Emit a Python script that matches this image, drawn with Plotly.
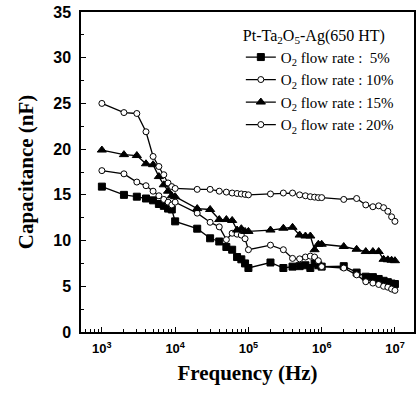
import plotly.graph_objects as go

freq = [m * 10**e for e in (3, 4, 5, 6) for m in range(1, 10)] + [10**7]

cap_5 = [15.9, 15.0, 14.8, 14.6, 14.4, 14.0, 13.8, 13.5, 13.4,
         12.1, 11.3, 10.25, 9.9, 9.3, 9.0, 8.2, 7.95, 7.5,
         7.0, 7.6, 7.0, 7.15, 7.2, 7.3, 7.0, 7.5, 7.3,
         7.15, 7.2, 6.5, 6.05, 6.0, 5.8, 5.6, 5.45, 5.3,
         5.25]
cap_10 = [17.65, 17.3, 16.4, 16.0, 15.4, 14.9, 14.5, 14.2, 13.9,
          14.2, 13.0, 12.0, 11.5, 10.1, 10.8, 10.7, 10.6, 10.2,
          9.0, 9.5, 9.0, 8.05, 8.0, 8.2, 8.3, 8.2, 7.8,
          7.15, 7.0, 6.25, 5.5, 5.35, 5.2, 5.0, 4.9, 4.7,
          4.55]
cap_15 = [19.9, 19.4, 19.3, 18.4, 18.3, 17.0, 16.1, 15.4, 14.9,
          14.8, 13.5, 13.4, 12.3, 12.3, 12.2, 11.15, 11.3, 11.0,
          11.0, 11.15, 11.35, 11.45, 10.6, 10.5, 10.5, 9.0, 9.6,
          9.6, 9.35, 9.05, 8.8, 8.8, 8.8, 7.95, 7.9, 7.85,
          7.8]
cap_20 = [25.0, 24.0, 23.9, 21.9, 19.2, 18.1, 17.2, 16.3, 15.9,
          15.7, 15.6, 15.6, 15.4, 15.3, 15.2, 15.15, 15.1, 15.05,
          15.0, 15.1, 15.2, 15.2, 15.0, 14.9, 14.8, 14.75, 14.7,
          14.7, 14.5, 14.6, 13.9, 13.7, 13.8, 13.6, 13.2, 12.6,
          12.1]

series = [
    ("O<sub>2</sub> flow rate :  5%", cap_5, "square", "black", 7),
    ("O<sub>2</sub> flow rate : 10%", cap_10, "circle", "white", 6),
    ("O<sub>2</sub> flow rate : 15%", cap_15, "triangle-up", "black", 8),
    ("O<sub>2</sub> flow rate : 20%", cap_20, "circle", "white", 6),
]

x_ticks = [1e3, 1e4, 1e5, 1e6, 1e7]
x_ticklabels = ["10<sup>3</sup>", "10<sup>4</sup>", "10<sup>5</sup>", "10<sup>6</sup>", "10<sup>7</sup>"]
y_ticks = [0, 5, 10, 15, 20, 25, 30, 35]

fig = go.Figure()
for name, vals, sym, fill, size in series:
    fig.add_trace(go.Scatter(
        x=freq, y=vals, mode="lines+markers", name=name,
        line=dict(color="black", width=1.3),
        marker=dict(symbol=sym, size=size, color=fill,
                    line=dict(color="black", width=1)),
    ))

serif = "Liberation Serif"
sans = "Liberation Sans"

fig.update_layout(
    width=419, height=393,
    margin=dict(l=81, r=3, t=12, b=61),
    paper_bgcolor="white", plot_bgcolor="white",
    showlegend=True,
    legend=dict(
        x=0.48, y=0.975, xanchor="left", yanchor="top",
        bgcolor="rgba(0,0,0,0)",
        font=dict(family=serif, size=15, color="black"),
        title=dict(text="Pt-Ta<sub>2</sub>O<sub>5</sub>-Ag(650 HT)",
                   font=dict(family=serif, size=16, color="black")),
        tracegroupgap=0, itemwidth=30,
    ),
    xaxis=dict(
        type="log", range=[2.715, 7.26],
        tickvals=x_ticks, ticktext=x_ticklabels,
        ticks="inside", ticklen=5, tickcolor="black",
        minor=dict(ticks="inside", ticklen=3, dtick="D1", tickcolor="black", showgrid=False),
        showline=True, linecolor="black", linewidth=1.5, mirror=True,
        showgrid=False, zeroline=False,
        ticklabelstandoff=4,
        tickfont=dict(family=sans, size=13, color="black", weight="bold"),
        title=dict(text="<b>Frequency (Hz)</b>", standoff=10,
                   font=dict(family=serif, size=21, color="black")),
    ),
    yaxis=dict(
        range=[0, 35], tickvals=y_ticks,
        ticks="inside", ticklen=5, tickcolor="black",
        minor=dict(ticks="inside", ticklen=3, dtick=2.5, tickcolor="black", showgrid=False),
        showline=True, linecolor="black", linewidth=1.5, mirror=True,
        showgrid=False, zeroline=False,
        ticklabelstandoff=5,
        tickfont=dict(family=sans, size=16, color="black", weight="bold"),
        title=dict(text="<b>Capacitance (nF)</b>", standoff=14,
                   font=dict(family=serif, size=21, color="black")),
    ),
)

fig.write_html("out.html")
